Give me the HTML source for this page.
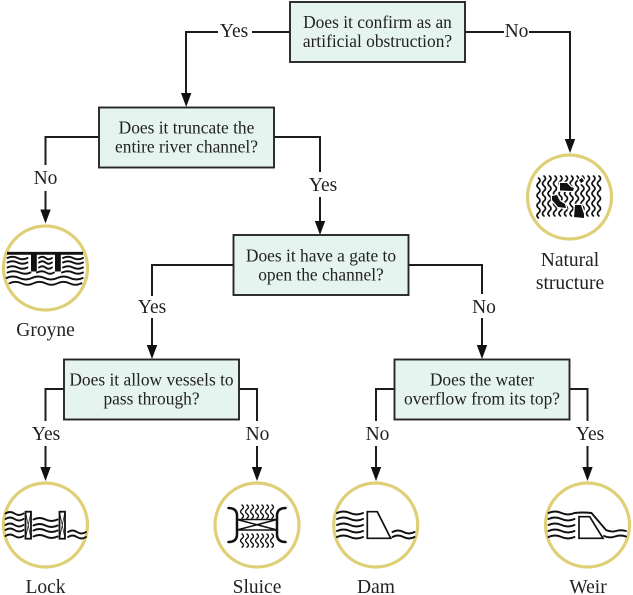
<!DOCTYPE html>
<html>
<head>
<meta charset="utf-8">
<style>
html,body{margin:0;padding:0;background:#fff;width:633px;height:595px;overflow:hidden}
svg{display:block;filter:blur(.3px)}
text{font-family:"Liberation Serif",serif;fill:#222;text-anchor:middle}
.q{font-size:17.4px}
.l{font-size:19.5px}
.b{fill:#e6f4f0;stroke:#262626;stroke-width:1.9}
.c{fill:none;stroke:#1c1c1c;stroke-width:2}
.r{fill:#fff;stroke:#dfcf76;stroke-width:3.2}
.w{fill:none;stroke:#111;stroke-width:1.9;stroke-linecap:round}
.v{fill:none;stroke:#111;stroke-width:1.7;stroke-linecap:round}
.k{fill:#111}
.rk{fill:#111;stroke:#fff;stroke-width:2.5;paint-order:stroke}
</style>
</head>
<body>
<svg width="633" height="595" viewBox="0 0 633 595" xmlns="http://www.w3.org/2000/svg">
<!-- connectors -->
<path class="c" d="M290 32H252M218 32H186V94"/>
<path class="c" d="M465 32H504M529 32H570V140"/>
<path class="c" d="M99 137H45.500V165M45.500 191V211"/>
<path class="c" d="M274 137H320V172M320 197V222"/>
<path class="c" d="M233 265H152V296M152 318V346"/>
<path class="c" d="M408 265H482V294M482 318V346"/>
<path class="c" d="M64 389H45.500V421M45.500 446V468"/>
<path class="c" d="M239 389H257V421M257 446V468"/>
<path class="c" d="M394 389H376V421M376 446V468"/>
<path class="c" d="M569 389H587.500V421M587.500 446V468"/>
<!-- arrowheads -->
<path class="k" d="M181 93h10.400l-5.200 14z"/>
<path class="k" d="M564.800 139h10.400l-5.200 14z"/>
<path class="k" d="M40.300 209.500h10.400l-5.200 14z"/>
<path class="k" d="M314.800 221h10.400l-5.200 14z"/>
<path class="k" d="M146.800 345h10.400l-5.200 14z"/>
<path class="k" d="M476.800 345h10.400l-5.200 14z"/>
<path class="k" d="M40.300 467h10.400l-5.200 14z"/>
<path class="k" d="M251.800 467h10.400l-5.200 14z"/>
<path class="k" d="M370.800 467h10.400l-5.200 14z"/>
<path class="k" d="M582.300 467h10.400l-5.200 14z"/>
<!-- boxes -->
<rect class="b" x="290" y="2" width="175" height="60"/>
<rect class="b" x="99" y="107.500" width="175" height="60"/>
<rect class="b" x="233.500" y="235" width="175" height="60"/>
<rect class="b" x="64" y="359.500" width="175" height="60"/>
<rect class="b" x="394.500" y="359.500" width="175" height="60"/>
<!-- box text -->
<text class="q" x="377.500" y="28">Does it confirm as an</text>
<text class="q" x="377.500" y="47">artificial obstruction?</text>
<text class="q" x="186.500" y="133.500">Does it truncate the</text>
<text class="q" x="186.500" y="152.500">entire river channel?</text>
<text class="q" x="321" y="261.500">Does it have a gate to</text>
<text class="q" x="321" y="280.500">open the channel?</text>
<text class="q" x="151.500" y="385.500">Does it allow vessels to</text>
<text class="q" x="151.500" y="404.500">pass through?</text>
<text class="q" x="482" y="385.500">Does the water</text>
<text class="q" x="482" y="404.500">overflow from its top?</text>
<!-- branch labels -->
<text class="l" x="234" y="37">Yes</text>
<text class="l" x="516.500" y="37">No</text>
<text class="l" x="45.500" y="184">No</text>
<text class="l" x="323" y="191">Yes</text>
<text class="l" x="152" y="313">Yes</text>
<text class="l" x="484" y="313">No</text>
<text class="l" x="46" y="440">Yes</text>
<text class="l" x="257.500" y="440">No</text>
<text class="l" x="377.500" y="440">No</text>
<text class="l" x="590" y="440">Yes</text>
<!-- circles -->
<circle class="r" cx="45.500" cy="268" r="42"/>
<circle class="r" cx="569.500" cy="197" r="42"/>
<circle class="r" cx="45.500" cy="525" r="42"/>
<circle class="r" cx="257" cy="525" r="42"/>
<circle class="r" cx="375.700" cy="525" r="42"/>
<circle class="r" cx="587.500" cy="525" r="42"/>
<!-- groyne -->
<path d="M7 253.300H83" stroke="#111" stroke-width="2.800"/>
<rect class="k" x="31" y="253" width="5.800" height="18.500"/>
<rect class="k" x="55" y="253" width="5.800" height="18.500"/>
<path class="w" d="M7.500 258q5-2.500 10 0t10 0M7.500 262.500q5-2.500 10 0t10 0M7.500 267.500q5-2.500 10 0t10 0M39 258q3.500-2.500 6.500 0t6.500 0M39 262.500q3.500-2.500 6.500 0t6.500 0M39 267.500q3.500-2.500 6.500 0t6.500 0M63 258q5-2.500 10 0t10 0M63 262.500q5-2.500 10 0t10 0M63 267.500q5-2.500 10 0t10 0"/>
<path class="w" d="M7.500 272.500q6-2.500 12 0t11 0M37 272.500q5-2.500 9 0t8 0M62 272.500q6-2.500 11 0t10 0"/>
<path class="w" d="M6.500 278q6.300-3 12.700 0t12.700 0t12.700 0t12.700 0t12.700 0t12.700 0M9.500 283.300q6-3 12 0t12 0t12 0t12 0t12 0t12 0"/>
<!-- natural structure -->
<path class="v" d="M538.500 178q3 2.500 0 5t0 5t0 5t0 5t0 5t0 5t0 5t0 5M544 176q3 2.500 0 5t0 5t0 5t0 5t0 5t0 5t0 5t0 5M549.500 176q3 2.500 0 5t0 5t0 5t0 5t0 5t0 5t0 5t0 5M555 176q3 2.500 0 5t0 5t0 5t0 5t0 5t0 5t0 5t0 5M560.500 176q3 2.500 0 5t0 5t0 5t0 5t0 5t0 5t0 5t0 5M566 176q3 2.500 0 5t0 5t0 5t0 5t0 5t0 5t0 5t0 5M571.500 176q3 2.500 0 5t0 5t0 5t0 5t0 5t0 5t0 5t0 5M577 176q3 2.500 0 5t0 5t0 5t0 5t0 5t0 5t0 5t0 5M582.500 176q3 2.500 0 5t0 5t0 5t0 5t0 5t0 5t0 5t0 5M588 176q3 2.500 0 5t0 5t0 5t0 5t0 5t0 5t0 5t0 5M593.500 176q3 2.500 0 5t0 5t0 5t0 5t0 5t0 5t0 5t0 5M599 176q3 2.500 0 5t0 5t0 5t0 5t0 5t0 5t0 5t0 5"/>
<path class="rk" d="M560 183l7 0 4 4 3 1-1 3-13-.5zM552 196l5-1 3 6 5 3 1 4-8-1-6-7zM575 205l6 0 3 9 0 4-10-1zM579 180l3-2 2 3-3 2z"/>
<!-- lock -->
<path class="w" d="M5.500 513.500q4.500-3 9 0t9 0M5.500 519q4.500-3 9 0t9 0M5.500 525q4.500-3 9 0t9 0M5.500 530q4.500-3 9 0t9 0M5.500 536q4.500-3 9 0t9 0M33.500 519.500q6-3 12 0t12 0M33.500 525.500q6-3 12 0t12 0M33.500 530.500q6-3 12 0t12 0M33.500 536.500q6-3 12 0t12 0M68 532q4.500-3 9 0t9 0M68 537q4.500-3 9 0t9 0"/>
<rect x="25.500" y="511.700" width="5.500" height="27" fill="#fff" stroke="#111" stroke-width="1.800"/>
<rect x="59.500" y="511.700" width="5.500" height="27" fill="#fff" stroke="#111" stroke-width="1.800"/>
<path d="M25.500 511.700l5.500 27M31 511.700l-5.500 27M59.500 511.700l5.500 27M65 511.700l-5.500 27" stroke="#111" stroke-width=".7"/>
<!-- sluice -->
<path d="M228.500 508q8 0 8.500 7V535q-.5 7-8.500 7M285.500 508q-8 0-8.500 7V535q.5 7 8.500 7" fill="none" stroke="#111" stroke-width="2.500" stroke-linecap="round"/>
<path d="M237 519.500H277M237 530H277M237 519.500L277 530M277 519.500L237 530" stroke="#111" stroke-width="1.500" fill="none"/>
<path class="v" style="stroke-width:1.400" d="M242 505q3 2.200 0 4.400t0 4.400t0 4.400M247 505q3 2.200 0 4.400t0 4.400t0 4.400M252 505q3 2.200 0 4.400t0 4.400t0 4.400M257 505q3 2.200 0 4.400t0 4.400t0 4.400M262 505q3 2.200 0 4.400t0 4.400t0 4.400M267 505q3 2.200 0 4.400t0 4.400t0 4.400M272 505q3 2.200 0 4.400t0 4.400t0 4.400M242 534q3 2.200 0 4.400t0 4.400t0 4.400M247 534q3 2.200 0 4.400t0 4.400t0 4.400M252 534q3 2.200 0 4.400t0 4.400t0 4.400M257 534q3 2.200 0 4.400t0 4.400t0 4.400M262 534q3 2.200 0 4.400t0 4.400t0 4.400M267 534q3 2.200 0 4.400t0 4.400t0 4.400M272 534q3 2.200 0 4.400t0 4.400t0 4.400"/>
<!-- dam -->
<path class="w" d="M337 513q6.500-3 13 0t13 0M337 519q6.500-3 13 0t13 0M337 525q6.500-3 13 0t13 0M337 531q6.500-3 13 0t13 0M337 537q6.500-3 13 0t13 0M392.500 532q5.500-3 11 0t11 0M392.500 537q5.500-3 11 0t11 0"/>
<path d="M367.300 511.700H377.300L390.700 538.300H367.300Z" fill="none" stroke="#111" stroke-width="1.700"/>
<!-- weir -->
<path class="w" d="M548.500 513q6.500-3 13 0t13 0q8-1 17 0L606 530q5 2.500 10 1t10 0M548.500 519q6.500-3 13 0t13 0M548.500 525q6.500-3 13 0t13 0M548.500 531q6.500-3 13 0t13 0M548.500 537q6.500-3 13 0t13 0M604 536q5.500 2.500 11 .500t11 0"/>
<path d="M579 516.700H589.700L603 538.300H579Z" fill="none" stroke="#111" stroke-width="1.700"/>
<!-- captions -->
<text class="l" x="45.500" y="336">Groyne</text>
<text class="l" x="570" y="266">Natural</text>
<text class="l" x="570" y="289">structure</text>
<text class="l" x="45.500" y="593">Lock</text>
<text class="l" x="257" y="593">Sluice</text>
<text class="l" x="376" y="593">Dam</text>
<text class="l" x="588" y="593">Weir</text>
</svg>
</body>
</html>
